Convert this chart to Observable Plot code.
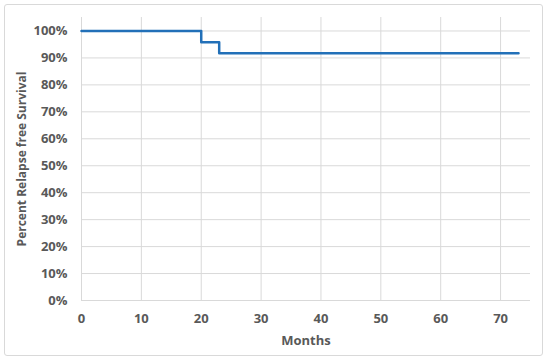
<!DOCTYPE html>
<html>
<head>
<meta charset="utf-8">
<script src="https://cdn.jsdelivr.net/npm/d3@7"></script>
<script src="https://cdn.jsdelivr.net/npm/@observablehq/plot@0.6"></script>
<style>
  html, body { margin: 0; padding: 0; background: #fff; }
  #wrap { position: relative; width: 550px; height: 362px; }
  #frame { position: absolute; left: 4px; top: 4px; width: 539px; height: 352px;
           border: 1px solid #d9d9d9; border-radius: 3px; box-sizing: border-box; }
  #chart { position: absolute; left: 0; top: 0; }
</style>
</head>
<body>
<div id="wrap"><div id="frame"></div><div id="chart"></div></div>
<script>
const months = [0, 20, 23, 73];
const survival = [1.0, 0.958, 0.917, 0.917];
const xTicks = [0, 10, 20, 30, 40, 50, 60, 70];
const yTicks = [0, 0.1, 0.2, 0.3, 0.4, 0.5, 0.6, 0.7, 0.8, 0.9, 1.0];
const xTitle = "Months";
const yTitle = "Percent Relapse free Survival";

const data = months.map((m, i) => ({month: m, surv: survival[i]}));
const font = {fill: "#595959", fontSize: 13, fontWeight: 700};

const chart = Plot.plot({
  width: 550,
  height: 362,
  marginLeft: 81,
  marginRight: 20,
  marginTop: 17,
  marginBottom: 62,
  style: {fontFamily: "'Open Sans', sans-serif", background: "transparent", color: "#595959"},
  x: {domain: [0, 75]},
  y: {domain: [0, 1.05]},
  marks: [
    Plot.gridX(xTicks, {stroke: "#d9d9d9", strokeOpacity: 1, strokeWidth: 1}),
    Plot.gridY(yTicks, {stroke: "#d9d9d9", strokeOpacity: 1, strokeWidth: 1}),
    Plot.axisX(xTicks, {tickSize: 0, tickPadding: 13, label: null, ...font}),
    Plot.axisY(yTicks, {tickSize: 0, tickPadding: 14, tickFormat: d3.format(".0%"), label: null, ...font}),
    Plot.text([xTitle], {frameAnchor: "bottom", dy: 40, lineAnchor: "middle", text: d => d,
      fill: "#595959", fontSize: 13, fontWeight: 700}),
    Plot.text([yTitle], {frameAnchor: "left", dx: -59, rotate: -90, lineAnchor: "middle", textAnchor: "middle", text: d => d,
      fill: "#595959", fontSize: 12, fontWeight: 700}),
    Plot.line(data, {x: "month", y: "surv", curve: "step-after", stroke: "#2270b8", strokeWidth: 2.5})
  ]
});
document.getElementById("chart").appendChild(chart);
</script>
</body>
</html>
